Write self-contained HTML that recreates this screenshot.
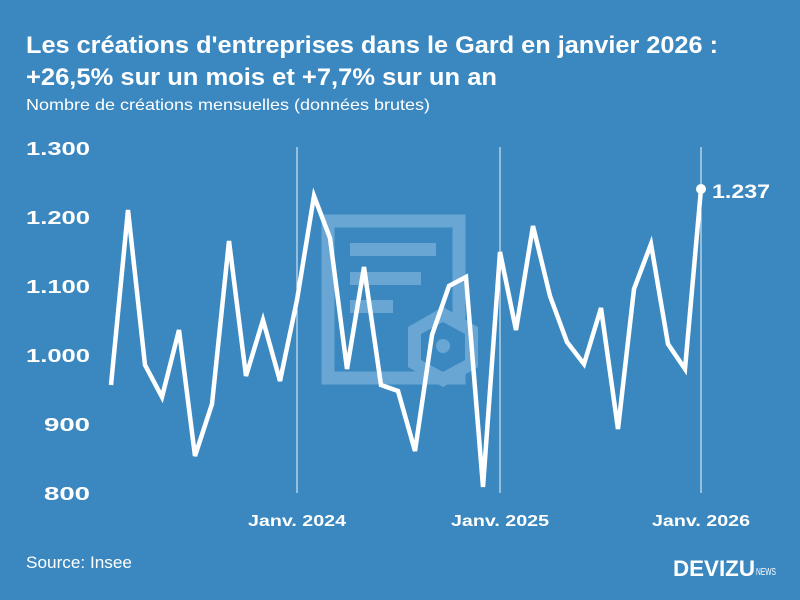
<!DOCTYPE html>
<html><head><meta charset="utf-8"><style>
body{margin:0;width:800px;height:600px;background:#3b88c0;overflow:hidden;font-family:"Liberation Sans",sans-serif;color:#fff}
</style></head><body>
<svg width="800" height="600" xmlns="http://www.w3.org/2000/svg" style="position:absolute;left:0;top:0">
<text x="26" y="53" font-size="24" font-weight="bold" fill="#fff" textLength="692" lengthAdjust="spacingAndGlyphs">Les créations d'entreprises dans le Gard en janvier 2026 :</text>
<text x="26" y="85" font-size="24" font-weight="bold" fill="#fff" textLength="471" lengthAdjust="spacingAndGlyphs">+26,5% sur un mois et +7,7% sur un an</text>
<text x="26" y="110" font-size="16" fill="#fff" textLength="404" lengthAdjust="spacingAndGlyphs">Nombre de créations mensuelles (données brutes)</text>
<g fill="none" stroke="#6aa6d3" stroke-width="13">
<rect x="328" y="221" width="131" height="157"/>
</g>
<g fill="#6aa6d3">
<rect x="350" y="243" width="86" height="13"/>
<rect x="350" y="272" width="71" height="13"/>
<rect x="350" y="300" width="43" height="13"/>
<polygon points="443,307 478,327 478,367 443,387 408,367 408,327" />
</g>
<polygon points="443,322 465,334 465,360 443,372 421,360 421,334" fill="#3b88c0"/>
<circle cx="443" cy="346" r="7" fill="#6aa6d3"/>
<g stroke="#fff" stroke-width="1" opacity="0.9">
<line x1="297" y1="147" x2="297" y2="493"/>
<line x1="500" y1="147" x2="500" y2="493"/>
<line x1="701" y1="147" x2="701" y2="493"/>
</g>
<g font-size="18" font-weight="bold" fill="#fff" lengthAdjust="spacingAndGlyphs">
<text x="26" y="155" textLength="64" lengthAdjust="spacingAndGlyphs">1.300</text>
<text x="26" y="224" textLength="64" lengthAdjust="spacingAndGlyphs">1.200</text>
<text x="26" y="293" textLength="64" lengthAdjust="spacingAndGlyphs">1.100</text>
<text x="26" y="362" textLength="64" lengthAdjust="spacingAndGlyphs">1.000</text>
<text x="44" y="431" textLength="46" lengthAdjust="spacingAndGlyphs">900</text>
<text x="44" y="500" textLength="46" lengthAdjust="spacingAndGlyphs">800</text>
<text x="248" y="526" font-size="16" textLength="98" lengthAdjust="spacingAndGlyphs">Janv. 2024</text>
<text x="451" y="526" font-size="16" textLength="98" lengthAdjust="spacingAndGlyphs">Janv. 2025</text>
<text x="652" y="526" font-size="16" textLength="98" lengthAdjust="spacingAndGlyphs">Janv. 2026</text>
<text x="712" y="198" font-size="19" textLength="58" lengthAdjust="spacingAndGlyphs">1.237</text>
</g>
<polyline fill="none" stroke="#fff" stroke-width="4.5" stroke-linejoin="miter" points="111,385 128,210 145,365 162,397 179,330 195,456 212,404 229,241 246,376 263,320 280,381 297,300 314,196 330,238 347,369 364,267 381,385 398,391 415,451 432,335 449,286 466,277 483,487 500,252 516,330 533,226 550,296 567,342 584,364 601,308 618,429 634,289 651,244 668,344 685,369 701,189"/>
<circle cx="701" cy="189" r="5" fill="#fff"/>
<text x="26" y="568" font-size="17" fill="#fff" textLength="106" lengthAdjust="spacingAndGlyphs">Source: Insee</text>
<text x="673" y="576" font-size="22" font-weight="bold" fill="#fff" textLength="82" lengthAdjust="spacingAndGlyphs">DEVIZU</text>
<text x="756" y="575" font-size="10" fill="#fff" textLength="20" lengthAdjust="spacingAndGlyphs">NEWS</text>
</svg>
</body></html>
